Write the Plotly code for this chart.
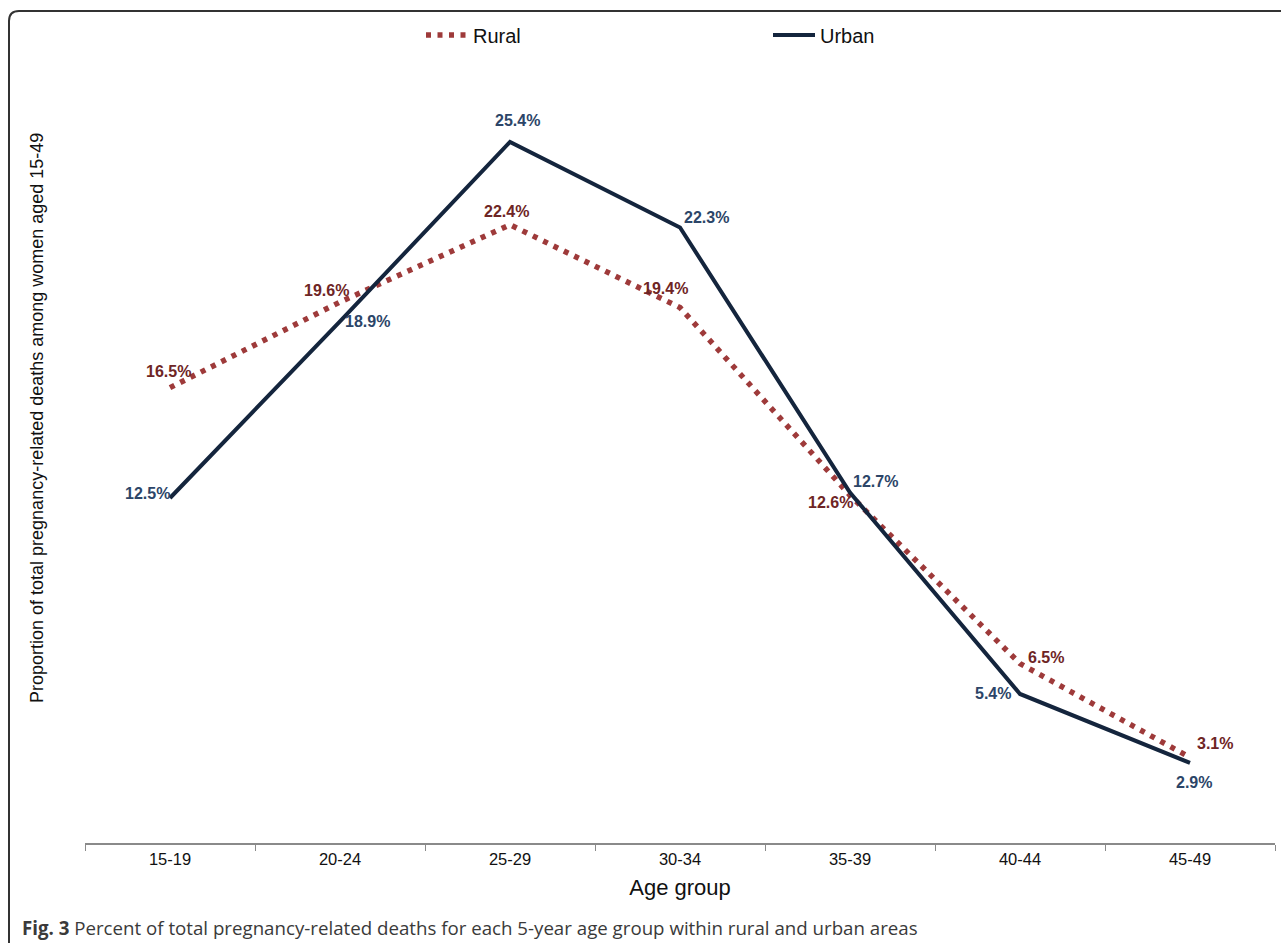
import plotly.graph_objects as go

age_groups = ["15-19", "20-24", "25-29", "30-34", "35-39", "40-44", "45-49"]
rural = [16.5, 19.6, 22.4, 19.4, 12.6, 6.5, 3.1]
urban = [12.5, 18.9, 25.4, 22.3, 12.7, 5.4, 2.9]

# label offsets (px) for each data label
rural_dx = [-2, -14, -4, -15, -20, 26, 25]
rural_dy = [16, 12, 13, 19, -7, 6, 14]
urban_dx = [-23, 27, 7, 26, 25, -27, 4]
urban_dy = [5, 0, 21, 10, 11, 0, -20]

RURAL_LINE = "#9e3a3a"
RURAL_TEXT = "#6e2525"
URBAN_LINE = "#14253d"
URBAN_TEXT = "#2c4568"

W, H = 1281, 943
L, R, T, B = 85, 6, 70, 100
PW, PH = W - L - R, H - T - B

def px2x(px):
    return (px - L) / PW

def px2y(py):
    return (H - B - py) / PH

fig = go.Figure()
fig.add_trace(go.Scatter(
    x=age_groups, y=rural, mode="lines", name="Rural",
    line=dict(color=RURAL_LINE, width=5.5, dash="5px,6.5px"),
))
fig.add_trace(go.Scatter(
    x=age_groups, y=urban, mode="lines", name="Urban",
    line=dict(color=URBAN_LINE, width=4),
))

LBL_FONT = "Liberation Sans, Arial"
annotations = []
for cat, v, dx, dy in zip(age_groups, rural, rural_dx, rural_dy):
    annotations.append(dict(x=cat, y=v, text=f"<b>{v:.1f}%</b>", showarrow=False,
                            xshift=dx, yshift=dy,
                            font=dict(family=LBL_FONT, size=16, color=RURAL_TEXT)))
for cat, v, dx, dy in zip(age_groups, urban, urban_dx, urban_dy):
    annotations.append(dict(x=cat, y=v, text=f"<b>{v:.1f}%</b>", showarrow=False,
                            xshift=dx, yshift=dy,
                            font=dict(family=LBL_FONT, size=16, color=URBAN_TEXT)))

annotations.append(dict(
    xref="paper", yref="paper", x=px2x(37), y=px2y(418), xanchor="center", yanchor="middle",
    text="Proportion of total pregnancy-related deaths among women aged 15-49",
    textangle=-90, showarrow=False,
    font=dict(family=LBL_FONT, size=18, color="#111"),
))
annotations.append(dict(
    xref="paper", yref="paper", x=px2x(20), y=px2y(927), xanchor="left", yanchor="middle",
    text="<b>Fig. 3</b> Percent of total pregnancy-related deaths for each 5-year age group within rural and urban areas",
    showarrow=False,
    font=dict(family="Open Sans, Noto Sans", size=18.7, color="#3a3a3a"),
))

r = 10
x0, yt, yb, xr = 9, 11, 943, 1285
path = (f"M {px2x(x0)},{px2y(yb)} L {px2x(x0)},{px2y(yt + r)} "
        f"Q {px2x(x0)},{px2y(yt)} {px2x(x0 + r)},{px2y(yt)} L {px2x(xr)},{px2y(yt)}")

fig.update_layout(
    width=W, height=H,
    margin=dict(l=L, r=R, t=T, b=B),
    paper_bgcolor="white", plot_bgcolor="white",
    showlegend=True,
    legend=dict(orientation="h", x=px2x(421), y=px2y(35), xanchor="left", yanchor="middle",
                entrywidth=290, entrywidthmode="pixels", itemwidth=42,
                font=dict(family=LBL_FONT, size=20, color="#111"),
                bgcolor="rgba(0,0,0,0)"),
    annotations=annotations,
    shapes=[dict(type="path", xref="paper", yref="paper", path=path,
                 line=dict(color="#333", width=2))],
    xaxis=dict(
        range=[-0.5, 6.5], showgrid=False, zeroline=False,
        showline=True, linecolor="#8a8a8a", linewidth=1.5,
        ticks="outside", tickson="boundaries", ticklen=6, tickcolor="#8a8a8a", tickwidth=1,
        tickfont=dict(family=LBL_FONT, size=16.5, color="#111"),
        title=dict(text="Age group", standoff=13,
                   font=dict(family=LBL_FONT, size=22, color="#111")),
    ),
    yaxis=dict(range=[0, PH / 27.6], showgrid=False, zeroline=False, showline=False,
               showticklabels=False, ticks=""),
)

fig.write_html("out.html", config={"displayModeBar": False},
               post_script="document.body.style.margin='0';document.body.style.overflow='hidden';")
